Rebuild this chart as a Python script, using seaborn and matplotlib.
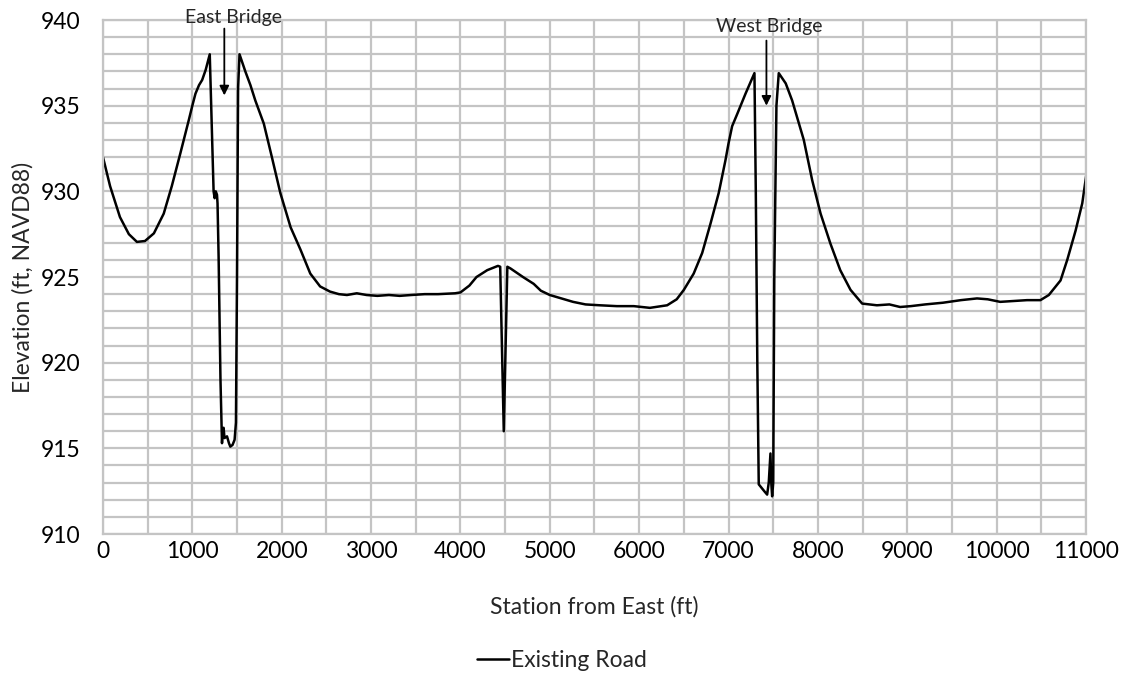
import matplotlib
matplotlib.use('Agg')
import matplotlib.pyplot as plt
import seaborn as sns
import pandas as pd
from matplotlib.ticker import MultipleLocator

# Road profile (station ft, elevation ft NAVD88)
station = [0, 80, 190, 290, 380, 470, 570, 680, 770, 865, 960, 1000, 1035, 1075, 1110,
           1150, 1195, 1212, 1238, 1250, 1262, 1276, 1282, 1294, 1315, 1332, 1340, 1350,
           1360, 1388, 1410, 1425, 1450, 1473, 1488, 1500, 1512, 1528, 1593, 1650,
           1705, 1800, 1890, 1985, 2100, 2210, 2320, 2430, 2540, 2640, 2730, 2840,
           2950, 3070, 3200, 3320, 3450, 3600, 3750, 3940, 4000, 4100, 4180, 4300,
           4420, 4445, 4485, 4525, 4560, 4700, 4820, 4900, 5000, 5130, 5260, 5400,
           5560, 5750, 5940, 6120, 6313, 6420, 6500, 6610, 6705, 6800, 6890, 6965,
           7000, 7040, 7100, 7190, 7290, 7305, 7322, 7338, 7376, 7400, 7432, 7450, 7469,
           7478, 7488, 7500, 7512, 7536, 7562, 7640, 7712, 7842, 7936, 8030, 8140,
           8250, 8365, 8495, 8660, 8800, 8920, 9040, 9200, 9400, 9600, 9780, 9900,
           10040, 10200, 10340, 10490, 10584, 10715, 10790, 10883, 10958, 11010]
elevation = [932.0, 930.3, 928.5, 927.5, 927.05, 927.1, 927.55, 928.7, 930.3, 932.2,
             934.15, 935.0, 935.7, 936.2, 936.5, 937.1, 938.0, 934.9, 930.0, 929.6,
             930.0, 929.8, 929.3, 926.2, 919.0, 915.3, 916.0, 916.2, 915.6, 915.7,
             915.3, 915.1, 915.2, 915.5, 916.5, 925.0, 936.0, 938.0, 937.0, 936.2,
             935.3, 933.95, 932.0, 929.9, 927.9, 926.6, 925.2, 924.45, 924.15, 924.0,
             923.95, 924.05, 923.95, 923.9, 923.95, 923.9, 923.95, 924.0, 924.0, 924.05,
             924.1, 924.5, 925.0, 925.4, 925.65, 925.6, 916.0, 925.6, 925.5, 925.0,
             924.6, 924.2, 923.95, 923.75, 923.55, 923.4, 923.35, 923.3, 923.3, 923.2,
             923.35, 923.7, 924.25, 925.2, 926.4, 928.15, 929.9, 931.8, 932.8, 933.8,
             934.55, 935.7, 936.9, 930.0, 920.0, 912.9, 912.65, 912.5, 912.3, 913.0,
             914.7, 913.0, 912.2, 913.0, 925.0, 935.0, 936.9, 936.3, 935.3, 933.0,
             930.65, 928.7, 926.95, 925.4, 924.25, 923.45, 923.35, 923.4, 923.25, 923.3,
             923.4, 923.5, 923.65, 923.75, 923.7, 923.55, 923.6, 923.65, 923.65, 923.95,
             924.8, 926.0, 927.7, 929.3, 931.2]

# Bridge callouts: label, label position, arrow x, arrow top, arrow tip
bridges = ['East Bridge', 'West Bridge']
bridge_text_x = [1460, 7460]
bridge_text_y = [940.15, 939.6]
bridge_arrow_x = [1358, 7424]
bridge_arrow_top = [939.5, 938.8]
bridge_arrow_tip = [935.6, 935.0]

df = pd.DataFrame({'station': station, 'elevation': elevation})

sns.set_style('white')
plt.rcParams['font.family'] = ['Lato', 'DejaVu Sans']

fig, ax = plt.subplots(figsize=(11.24, 6.74), dpi=100)
fig.subplots_adjust(left=0.0916, right=0.9662, top=0.9703, bottom=0.2077)

sns.lineplot(data=df, x='station', y='elevation', ax=ax, color='black',
             linewidth=1.8, sort=False, estimator=None, label='Existing Road')

ax.set_xlim(0, 11000)
ax.set_ylim(910, 940)
ax.xaxis.set_major_locator(MultipleLocator(1000))
ax.xaxis.set_minor_locator(MultipleLocator(500))
ax.yaxis.set_major_locator(MultipleLocator(5))
ax.yaxis.set_minor_locator(MultipleLocator(1))
ax.grid(True, which='both', color='#c4c4c4', linewidth=1.6)
ax.set_axisbelow(True)
for s in ax.spines.values():
    s.set_color('#c4c4c4')
    s.set_linewidth(1.6)
ax.tick_params(axis='both', which='both', length=0, labelsize=16.5, colors='#000000')
ax.tick_params(axis='y', pad=16)
ax.tick_params(axis='x', pad=5)

ax.set_xlabel('Station from East (ft)', fontsize=16.5)
ax.set_ylabel('Elevation (ft, NAVD88)', fontsize=16.5)
ax.xaxis.set_label_coords(0.4995, -0.12)
ax.yaxis.set_label_coords(-0.071, 0.5)

for i in range(len(bridges)):
    ax.annotate('', xy=(bridge_arrow_x[i], bridge_arrow_tip[i]),
                xytext=(bridge_arrow_x[i], bridge_arrow_top[i]),
                arrowprops=dict(arrowstyle='-|>', color='black', lw=1.3,
                                mutation_scale=14, shrinkA=0, shrinkB=0))
    ax.text(bridge_text_x[i], bridge_text_y[i], bridges[i], ha='center', va='center',
            fontsize=14, clip_on=False)

ax.get_legend().remove()
handles, labels = ax.get_legend_handles_labels()
fig.legend(handles, labels, loc='center', bbox_to_anchor=(0.5, 0.02), frameon=False,
           fontsize=16.5, handlelength=1.4, handletextpad=0.1)

fig.savefig('out.png', dpi=100)
